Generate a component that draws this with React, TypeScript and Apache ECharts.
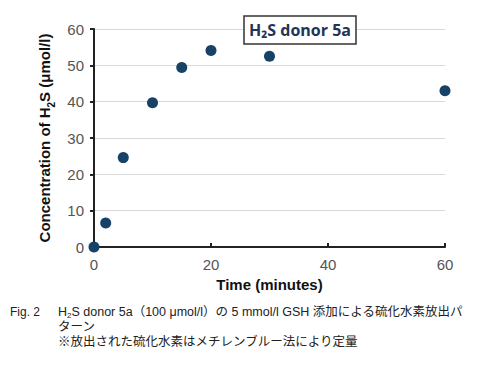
import React, { useEffect, useRef } from "react";
import * as echarts from "echarts";

const timeMinutes = [0, 2, 5, 10, 15, 20, 30, 60];
const h2sConcentration = [0, 6.6, 24.6, 39.7, 49.4, 54.1, 52.5, 43.0];
const xTicks = [0, 20, 40, 60];
const yTicks = [0, 10, 20, 30, 40, 50, 60];
const chartTitle = "H₂S donor 5a";
const captionLines = [
  "H{sub|2}S donor 5a（100 μmol/l）の 5 mmol/l GSH 添加による硫化水素放出パ",
  "ターン",
  "※放出された硫化水素はメチレンブルー法により定量",
];

export default function App() {
  const ref = useRef<HTMLDivElement>(null);
  useEffect(() => {
    const chart = echarts.init(ref.current!, null, { renderer: "svg" });
    const font = "Liberation Sans, Arial, sans-serif";
    const capFont = "Liberation Sans, Noto Sans CJK JP, sans-serif";
    chart.setOption({
      animation: false,
      backgroundColor: "#fff",
      grid: { left: 94, right: 41, top: 29, bottom: 119, containLabel: false },
      xAxis: {
        type: "value",
        min: xTicks[0],
        max: xTicks[xTicks.length - 1],
        interval: 20,
        name: "Time (minutes)",
        nameLocation: "middle",
        nameGap: 30,
        nameTextStyle: { fontFamily: font, fontSize: 15, fontWeight: "bold", color: "#111" },
        axisLine: { show: true, lineStyle: { color: "#222", width: 2 } },
        axisTick: { show: true, inside: true, length: 4, lineStyle: { color: "#222", width: 2 } },
        axisLabel: { fontFamily: font, fontSize: 15, color: "#555", margin: 10 },
        splitLine: { show: false },
      },
      yAxis: {
        type: "value",
        min: yTicks[0],
        max: yTicks[yTicks.length - 1],
        interval: 10,
        name: "Concentration of H{sub|2}S (μmol/l)",
        nameLocation: "middle",
        nameGap: 34,
        nameRotate: 90,
        nameTextStyle: {
          fontFamily: font,
          fontSize: 15,
          fontWeight: "bold",
          color: "#111",
          rich: { sub: { fontFamily: font, fontSize: 10, fontWeight: "bold", color: "#111", verticalAlign: "bottom", padding: [0, 0, -4, 0] } },
        },
        axisLine: { show: true, lineStyle: { color: "#222", width: 2 } },
        axisTick: { show: true, length: 4, lineStyle: { color: "#222", width: 2 } },
        axisLabel: { fontFamily: font, fontSize: 15, color: "#555", margin: 10 },
        splitLine: { show: true, lineStyle: { color: "#d9d9d9", width: 1 } },
      },
      series: [
        {
          type: "scatter",
          data: timeMinutes.map((t, i) => [t, h2sConcentration[i]]),
          symbol: "circle",
          symbolSize: 11,
          itemStyle: { color: "#174268", opacity: 1 },
          clip: false,
          z: 5,
        },
      ],
      graphic: [
        {
          type: "rect",
          shape: { x: 244, y: 16, width: 112, height: 28 },
          style: { fill: "#fff", stroke: "#333", lineWidth: 1.5 },
          z: 10,
        },
        {
          type: "text",
          x: 300,
          y: 30,
          z: 11,
          style: {
            text: chartTitle,
            fontFamily: "Open Sans, Liberation Sans, sans-serif",
            fontSize: 16,
            fontWeight: "bold",
            fill: "#1f3556",
            align: "center",
            verticalAlign: "middle",
          },
        },
        {
          type: "text",
          x: 10,
          y: 312,
          style: { text: "Fig. 2", fontFamily: font, fontSize: 12, fill: "#222", verticalAlign: "middle" },
        },
        ...captionLines.map((line, i) => ({
          type: "text",
          x: 58,
          y: 312 + i * 15,
          style: {
            text: line,
            fontFamily: capFont,
            fontSize: 12.5,
            lineHeight: 14,
            fill: "#222",
            verticalAlign: "middle",
            rich: { sub: { fontFamily: capFont, fontSize: 8, lineHeight: 14, fill: "#222", verticalAlign: "bottom" } },
          },
        })),
      ],
    });
    return () => chart.dispose();
  }, []);
  return (
    <div
      ref={ref}
      style={{ position: "absolute", left: 0, top: 0, width: 486, height: 366 }}
    />
  );
}
